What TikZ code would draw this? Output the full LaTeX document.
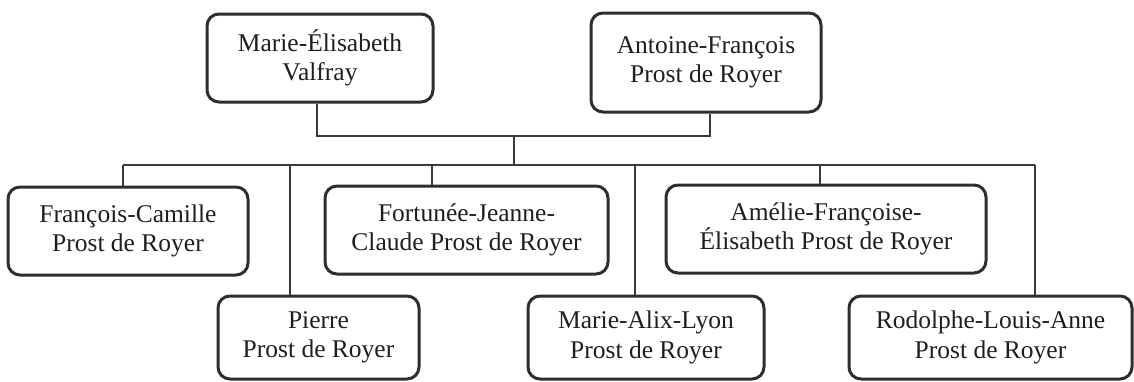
\documentclass[tikz,border=0pt]{standalone}
\usepackage{fontspec}
\setmainfont{Liberation Serif}
\definecolor{boxline}{HTML}{2E2E2E}
\definecolor{connline}{HTML}{3A3A3A}
\definecolor{txt}{HTML}{1E1E1E}
\begin{document}
\begin{tikzpicture}[x=1pt,y=-1pt,
  person/.style={draw=boxline,line width=3pt,rounded corners=12pt,
    rectangle,inner sep=0pt,align=center,text=txt,
    font=\fontsize{25.5}{29.5}\selectfont},
  conn/.style={draw=connline,line width=1.3pt}]
\useasboundingbox (0,0) rectangle (1134,381);
% parents
\node[person,minimum width=226pt,minimum height=88pt] (marie) at (320,58) {Marie-Élisabeth\\Valfray};
\node[person,minimum width=230pt,minimum height=99pt] (antoine) at (706,62.5) {Antoine-François\\Prost de Royer};
% children, upper row
\node[person,minimum width=240pt,minimum height=88pt] (francois) at (128,231) {François-Camille\\Prost de Royer};
\node[person,minimum width=283pt,minimum height=88pt] (fortunee) at (466.5,230) {Fortunée-Jeanne-\\Claude Prost de Royer};
\node[person,minimum width=320pt,minimum height=88pt] (amelie) at (826,229) {Amélie-Françoise-\\Élisabeth Prost de Royer};
% children, lower row
\node[person,minimum width=201pt,minimum height=83pt] (pierre) at (318.5,337.5) {Pierre\\Prost de Royer};
\node[person,minimum width=236pt,minimum height=83pt] (alix) at (646,337.5) {Marie-Alix-Lyon\\Prost de Royer};
\node[person,minimum width=283pt,minimum height=83pt] (rodolphe) at (990.5,337.5) {Rodolphe-Louis-Anne\\Prost de Royer};
% junctions
\coordinate (top) at (514,136);
\coordinate (bus) at (514,165);
\coordinate (b1) at (123,165);
\coordinate (b2) at (290,165);
\coordinate (b3) at (432,165);
\coordinate (b4) at (635,165);
\coordinate (b5) at (820,165);
\coordinate (b6) at (1035,165);
% connectors
\draw[conn] ([xshift=-3pt]marie.south) |- (top) -| ([xshift=4pt]antoine.south);
\draw[conn] (top) -- (bus);
\draw[conn] (b1) -- (b6);
\draw[conn] (b1) -- (b1 |- francois.north);
\draw[conn] (b2) -- (b2 |- pierre.north);
\draw[conn] (b3) -- (b3 |- fortunee.north);
\draw[conn] (b4) -- (b4 |- alix.north);
\draw[conn] (b5) -- (b5 |- amelie.north);
\draw[conn] (b6) -- (b6 |- rodolphe.north);
\end{tikzpicture}
\end{document}
